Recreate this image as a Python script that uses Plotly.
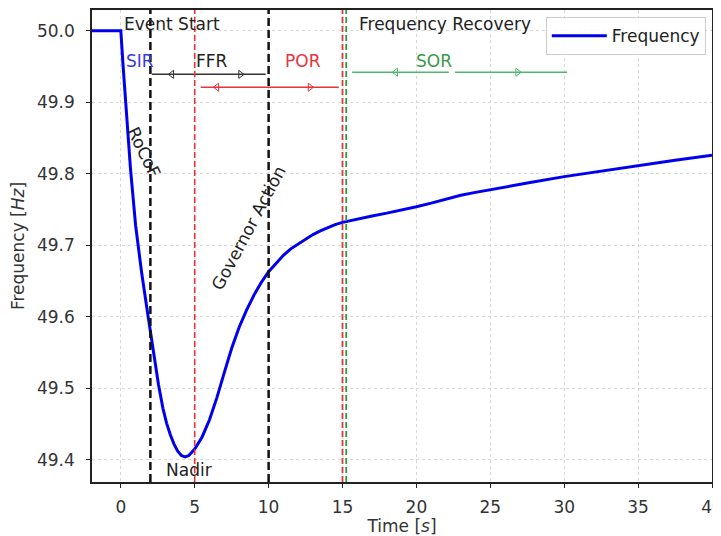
import plotly.graph_objects as go

# ---- data ----
time_s = [-2, 0, 0.15, 0.3, 0.65, 1.0, 1.4, 1.85, 2.2, 2.55, 2.85, 3.1, 3.35, 3.6, 3.85,
          4.1, 4.35, 4.6, 5.0, 5.5, 6.0, 6.5, 7.0, 7.5, 8.0, 8.5, 9.0, 9.5, 10.0,
          10.5, 11.0, 11.5, 12.0, 12.5, 13.0, 13.5, 14.0, 14.5, 15.0, 16, 17, 18, 19,
          20, 21, 22, 23, 24, 25, 27.5, 30, 32.5, 35, 37.5, 40]
freq_hz = [50.0, 50.0, 49.952, 49.906, 49.808, 49.728, 49.663, 49.6, 49.55, 49.505,
           49.472, 49.451, 49.435, 49.422, 49.412, 49.406, 49.404, 49.406, 49.415,
           49.432, 49.456, 49.487, 49.522, 49.556, 49.585, 49.609, 49.63, 49.648,
           49.663, 49.675, 49.686, 49.695, 49.702, 49.709, 49.715, 49.72, 49.725,
           49.729, 49.732, 49.737, 49.741, 49.745, 49.749, 49.754, 49.759, 49.765,
           49.77, 49.774, 49.778, 49.787, 49.796, 49.804, 49.812, 49.819, 49.826]

vline_x = [2, 5, 10, 15, 15.25]
vline_color = ["#111111", "#e8333a", "#111111", "#e8333a", "#2e9a3e"]
vline_width = [2.5, 1.6, 2.5, 1.8, 1.8]
vline_dash = ["8px,4px", "6px,3px", "8px,4px", "6px,3px", "6px,3px"]

seg_x0 = [2.1, 5.4, 15.65, 22.6]
seg_x1 = [9.8, 14.75, 22.2, 30.2]
seg_y = [49.939, 49.921, 49.942, 49.942]
seg_color = ["#333333", "#e8333a", "#4cb870", "#4cb870"]
head_left_x = [3.45, 6.5, 18.6]
head_right_x = [8.1, 12.8, 26.85]
head_y = [49.939, 49.921, 49.942]
head_color = ["#333333", "#e8333a", "#4cb870"]

label_text = ["Event Start", "Frequency Recovery", "SIR", "FFR", "POR", "SOR", "Nadir"]
label_x = [0.1, 16.0, 0.2, 4.95, 10.95, 19.85, 2.95]
label_y = [50.009, 50.009, 49.957, 49.958, 49.958, 49.957, 49.386]
label_color = ["#222222", "#222222", "#3a3ae0", "#222222", "#e8333a", "#3a9a4a", "#222222"]

rot_text = ["RoCoF", "Governor Action"]
rot_x = [1.55, 8.65]
rot_y = [49.83, 49.724]
rot_angle = [64, -62]

FS = 17

fig = go.Figure()
fig.add_trace(go.Scatter(x=time_s, y=freq_hz, mode="lines", name="Frequency",
                         line=dict(color="#0000ee", width=3)))

for x0, x1, y, c in zip(seg_x0, seg_x1, seg_y, seg_color):
    fig.add_shape(type="line", x0=x0, x1=x1, y0=y, y1=y, xref="x", yref="y",
                  line=dict(color=c, width=1.5))
for hl, hr, hy, c in zip(head_left_x, head_right_x, head_y, head_color):
    fig.add_trace(go.Scatter(x=[hl], y=[hy], mode="markers", showlegend=False, hoverinfo="skip",
                             marker=dict(symbol="triangle-left-open", size=7, color=c,
                                         line=dict(width=1, color=c))))
    fig.add_trace(go.Scatter(x=[hr], y=[hy], mode="markers", showlegend=False, hoverinfo="skip",
                             marker=dict(symbol="triangle-right-open", size=7, color=c,
                                         line=dict(width=1, color=c))))

for x, c, w, d in zip(vline_x, vline_color, vline_width, vline_dash):
    fig.add_shape(type="line", x0=x, x1=x, y0=0, y1=1, xref="x", yref="paper",
                  line=dict(color=c, width=w, dash=d))

for t, x, y, c in zip(label_text, label_x, label_y, label_color):
    fig.add_annotation(x=x, y=y, text=t, showarrow=False, xanchor="left", yanchor="middle",
                       font=dict(size=FS, color=c))
for t, x, y, a in zip(rot_text, rot_x, rot_y, rot_angle):
    fig.add_annotation(x=x, y=y, text=t, showarrow=False, textangle=a,
                       font=dict(size=FS, color="#222222"))

axis_common = dict(showline=True, linecolor="#222222", linewidth=1.5, mirror=True,
                   ticks="outside", ticklen=4, tickcolor="#222222",
                   showgrid=True, gridcolor="#d8d8d8", griddash="dot", gridwidth=1,
                   zeroline=False, tickfont=dict(size=FS, color="#333333"),
                   automargin=False, ticklabeloverflow="allow")
fig.update_xaxes(range=[-1.95, 40], tickvals=[0, 5, 10, 15, 20, 25, 30, 35, 40],
                 ticklabelstandoff=5,
                 title=dict(text="Time [<i>s</i>]", font=dict(size=FS, color="#333333"), standoff=4),
                 **axis_common)
fig.update_yaxes(range=[49.369, 50.029], tickvals=[49.4, 49.5, 49.6, 49.7, 49.8, 49.9, 50.0],
                 tickformat=".1f", ticklabelstandoff=8,
                 title=dict(text="Frequency [<i>Hz</i>]", font=dict(size=FS, color="#333333"), standoff=10),
                 **axis_common)

# page body has an 8px margin, so the figure is sized/offset to match the target window
fig.update_layout(
    width=713, height=528,
    margin=dict(l=84, r=9, t=2, b=54),
    paper_bgcolor="white", plot_bgcolor="white",
    font=dict(family="DejaVu Sans", size=FS, color="#333333"),
    legend=dict(x=0.99, y=0.985, xanchor="right", yanchor="top", itemwidth=55,
                bgcolor="rgba(255,255,255,0.85)", bordercolor="#cccccc", borderwidth=1,
                font=dict(size=FS, color="#222222")),
)

fig.write_html("out.html")
